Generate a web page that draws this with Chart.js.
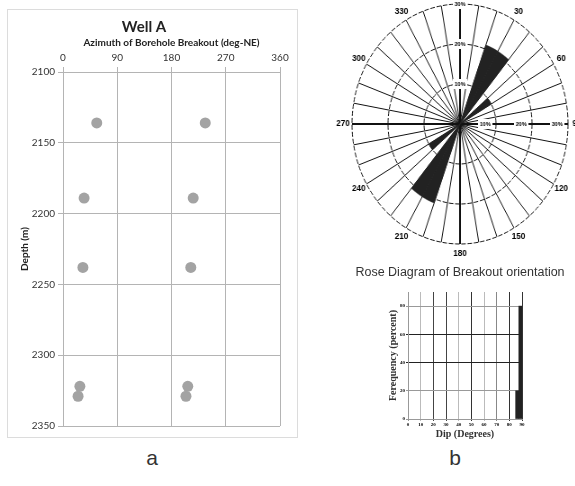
<!DOCTYPE html>
<html>
<head>
<meta charset="utf-8">
<script src="https://cdn.jsdelivr.net/npm/chart.js@4.4.1/dist/chart.umd.min.js"></script>
<style>
  html, body { margin: 0; padding: 0; background: #fff; overflow: hidden; }
  body { width: 575px; height: 486px; position: relative; font-family: 'Liberation Sans', sans-serif; }
  .box { position: absolute; left: 7px; top: 9px; width: 289px; height: 427px; border: 1px solid #dcdcdc; }
  #wellChart { position: absolute; left: 8px; top: 10px; }
  #roseChart { position: absolute; left: 315px; top: -21px; transform: scaleX(0.9); transform-origin: 145px 145px; }
  #dipChart { position: absolute; left: 380px; top: 285px; }
  .roseTitle { position: absolute; left: 340px; top: 265px; width: 240px; text-align: center; font-size: 12.5px; color: #333; }
  .panel { position: absolute; top: 446px; width: 40px; text-align: center; font-size: 21px; color: #333; }
</style>
</head>
<body>
<div class="box"></div>
<canvas id="wellChart" width="288" height="426"></canvas>
<canvas id="roseChart" width="290" height="290"></canvas>
<div class="roseTitle">Rose Diagram of Breakout orientation</div>
<canvas id="dipChart" width="150" height="155"></canvas>
<div class="panel" style="left:132px">a</div>
<div class="panel" style="left:435px">b</div>

<script>
// Well A - breakout azimuth vs depth
const breakoutAzimuth = [56, 236, 35, 216, 33, 212, 28, 25, 207, 204];
const breakoutDepth = [2136, 2136, 2189, 2189, 2238, 2238, 2322, 2329, 2322, 2329];

// rose diagram, 10 degree bins (percent)
const roseBins = [0, 10, 20, 30, 40, 50, 60, 70, 80, 90, 100, 110, 120, 130, 140, 150, 160, 170,
                  180, 190, 200, 210, 220, 230, 240, 250, 260, 270, 280, 290, 300, 310, 320, 330, 340, 350];
const roseFrequency = [0, 0, 21, 21, 0, 10, 0, 0, 0, 0, 0, 0, 0, 0, 0, 0, 0, 0,
                       0, 0, 21, 21, 0, 10, 0, 0, 0, 0, 0, 0, 0, 0, 0, 0, 0, 0];
const roseLabelAngles = [30, 60, 90, 120, 150, 180, 210, 240, 270, 300, 330];
const roseRingTicks = [10, 20, 30];

// dip histogram (percent)
const dipBins = [86.25, 88.75];
const dipFrequency = [20, 80];

const F = "'Liberation Sans Narrow', 'Lato', sans-serif";
const SERIF = "'Liberation Serif', 'DejaVu Serif', serif";

new Chart(document.getElementById('wellChart'), {
    type: 'scatter',
    data: {
        datasets: [{
            data: breakoutAzimuth.map((a, i) => ({ x: a, y: breakoutDepth[i] })),
            backgroundColor: '#a3a3a3',
            borderWidth: 0,
            pointRadius: 5.5,
            pointHoverRadius: 5.5
        }]
    },
    options: {
        responsive: false,
        animation: false,
        layout: { padding: { left: 0, right: 16, top: 0, bottom: 10 } },
        plugins: {
            legend: { display: false },
            tooltip: { enabled: false },
            title: {
                display: true,
                text: 'Well A',
                color: '#222',
                font: { family: F, size: 15, weight: 'bold' },
                padding: { top: 8, bottom: 1 }
            }
        },
        scales: {
            x: {
                type: 'linear',
                position: 'top',
                min: 0,
                max: 360,
                ticks: { stepSize: 90, color: '#333', font: { family: F, size: 10 }, padding: 3 },
                grid: { color: '#b4b4b4', tickLength: 5 },
                border: { color: '#b4b4b4' },
                title: {
                    display: true,
                    text: 'Azimuth of Borehole Breakout (deg-NE)',
                    color: '#222',
                    font: { family: F, size: 10, weight: 'bold' },
                    padding: 0
                },
                afterFit: s => { s.height = 35; }
            },
            y: {
                type: 'linear',
                reverse: true,
                min: 2100,
                max: 2350,
                ticks: { stepSize: 50, color: '#333', font: { family: F, size: 10 }, padding: 3, callback: v => String(v) },
                grid: { color: '#b4b4b4', tickLength: 5 },
                border: { color: '#b4b4b4' },
                title: {
                    display: true,
                    text: 'Depth (m)',
                    color: '#222',
                    font: { family: F, size: 10, weight: 'bold' },
                    padding: { top: 11, bottom: 0 }
                },
                afterFit: s => { s.width = 55; }
            }
        }
    }
});

// angle labels round the rim and ring labels along the east axis
const roseLabelsPlugin = {
    id: 'roseLabels',
    afterDatasetsDraw(chart) {
        const r = chart.scales.r;
        const ctx = chart.ctx;
        ctx.save();
        ctx.fillStyle = '#000';
        ctx.textAlign = 'center';
        ctx.textBaseline = 'middle';
        ctx.font = "bold 9px 'Liberation Sans', sans-serif";
        roseLabelAngles.forEach(a => {
            const p = r.getPointPosition(roseBins.indexOf(a), r.drawingArea + 10);
            ctx.fillText(String(a), p.x, p.y);
        });
        ctx.font = "bold 6px 'Liberation Sans', sans-serif";
        roseRingTicks.forEach(v => {
            const p = r.getPointPosition(roseBins.indexOf(90), r.getDistanceFromCenterForValue(v) - 12);
            const txt = v + '%';
            const w = ctx.measureText(txt).width;
            ctx.fillStyle = '#fff';
            ctx.fillRect(p.x - w / 2 - 2, p.y - 5, w + 4, 10);
            ctx.fillStyle = '#000';
            ctx.fillText(txt, p.x, p.y);
        });
        ctx.restore();
    }
};

new Chart(document.getElementById('roseChart'), {
    type: 'polarArea',
    data: {
        labels: roseBins,
        datasets: [{
            data: roseFrequency,
            backgroundColor: '#222',
            borderColor: '#222',
            borderWidth: 0.5
        }]
    },
    options: {
        responsive: false,
        animation: false,
        layout: { padding: 20 },
        plugins: { legend: { display: false }, tooltip: { enabled: false } },
        scales: {
            r: {
                min: 0,
                max: 30,
                startAngle: 0,
                ticks: {
                    stepSize: 10,
                    callback: v => v + '%',
                    color: '#000',
                    font: { size: 6, weight: 'bold' },
                    backdropColor: '#fff',
                    backdropPadding: 2
                },
                grid: { circular: true, color: '#111', lineWidth: 1 },
                border: { dash: [5, 2] },
                angleLines: {
                    display: true,
                    color: '#111',
                    lineWidth: c => (c.index % 9 === 0 ? 2 : 1)
                },
                pointLabels: { display: false }
            }
        }
    },
    plugins: [roseLabelsPlugin]
});

const dipGridX = ['#999', '#bbb', '#444', '#444', '#bbb', '#333', '#bbb', '#888', '#333', '#333'];
const dipGridY = ['#999', '#999', '#222', '#222', '#999'];

new Chart(document.getElementById('dipChart'), {
    type: 'bar',
    data: {
        datasets: [{
            data: dipBins.map((x, i) => ({ x: x, y: dipFrequency[i] })),
            backgroundColor: '#222',
            barPercentage: 1,
            categoryPercentage: 1
        }]
    },
    options: {
        responsive: false,
        animation: false,
        layout: { padding: { top: 7, right: 8, left: 0, bottom: 0 } },
        plugins: { legend: { display: false }, tooltip: { enabled: false } },
        scales: {
            x: {
                type: 'linear',
                min: 0,
                max: 90,
                offset: false,
                ticks: { stepSize: 10, color: '#000', font: { family: SERIF, size: 5, weight: 'bold' }, padding: 1, maxRotation: 0 },
                grid: { offset: false, color: c => dipGridX[c.index] || '#999', tickLength: 2 },
                border: { color: '#999' },
                title: {
                    display: true,
                    text: 'Dip (Degrees)',
                    color: '#333',
                    font: { family: SERIF, size: 10, weight: 'bold' },
                    padding: 0
                },
                afterFit: s => { s.height = 21; }
            },
            y: {
                min: 0,
                max: 90,
                ticks: { stepSize: 20, includeBounds: false, color: '#000', font: { family: SERIF, size: 5, weight: 'bold' }, padding: 1 },
                grid: { color: c => dipGridY[c.index] || '#999', tickLength: 2 },
                border: { color: '#999' },
                title: {
                    display: true,
                    text: 'Ferequency (percent)',
                    color: '#333',
                    font: { family: SERIF, size: 10, weight: 'bold' },
                    padding: { top: 7, bottom: 0 }
                },
                afterFit: s => { s.width = 28; }
            }
        }
    }
});
</script>
</body>
</html>
